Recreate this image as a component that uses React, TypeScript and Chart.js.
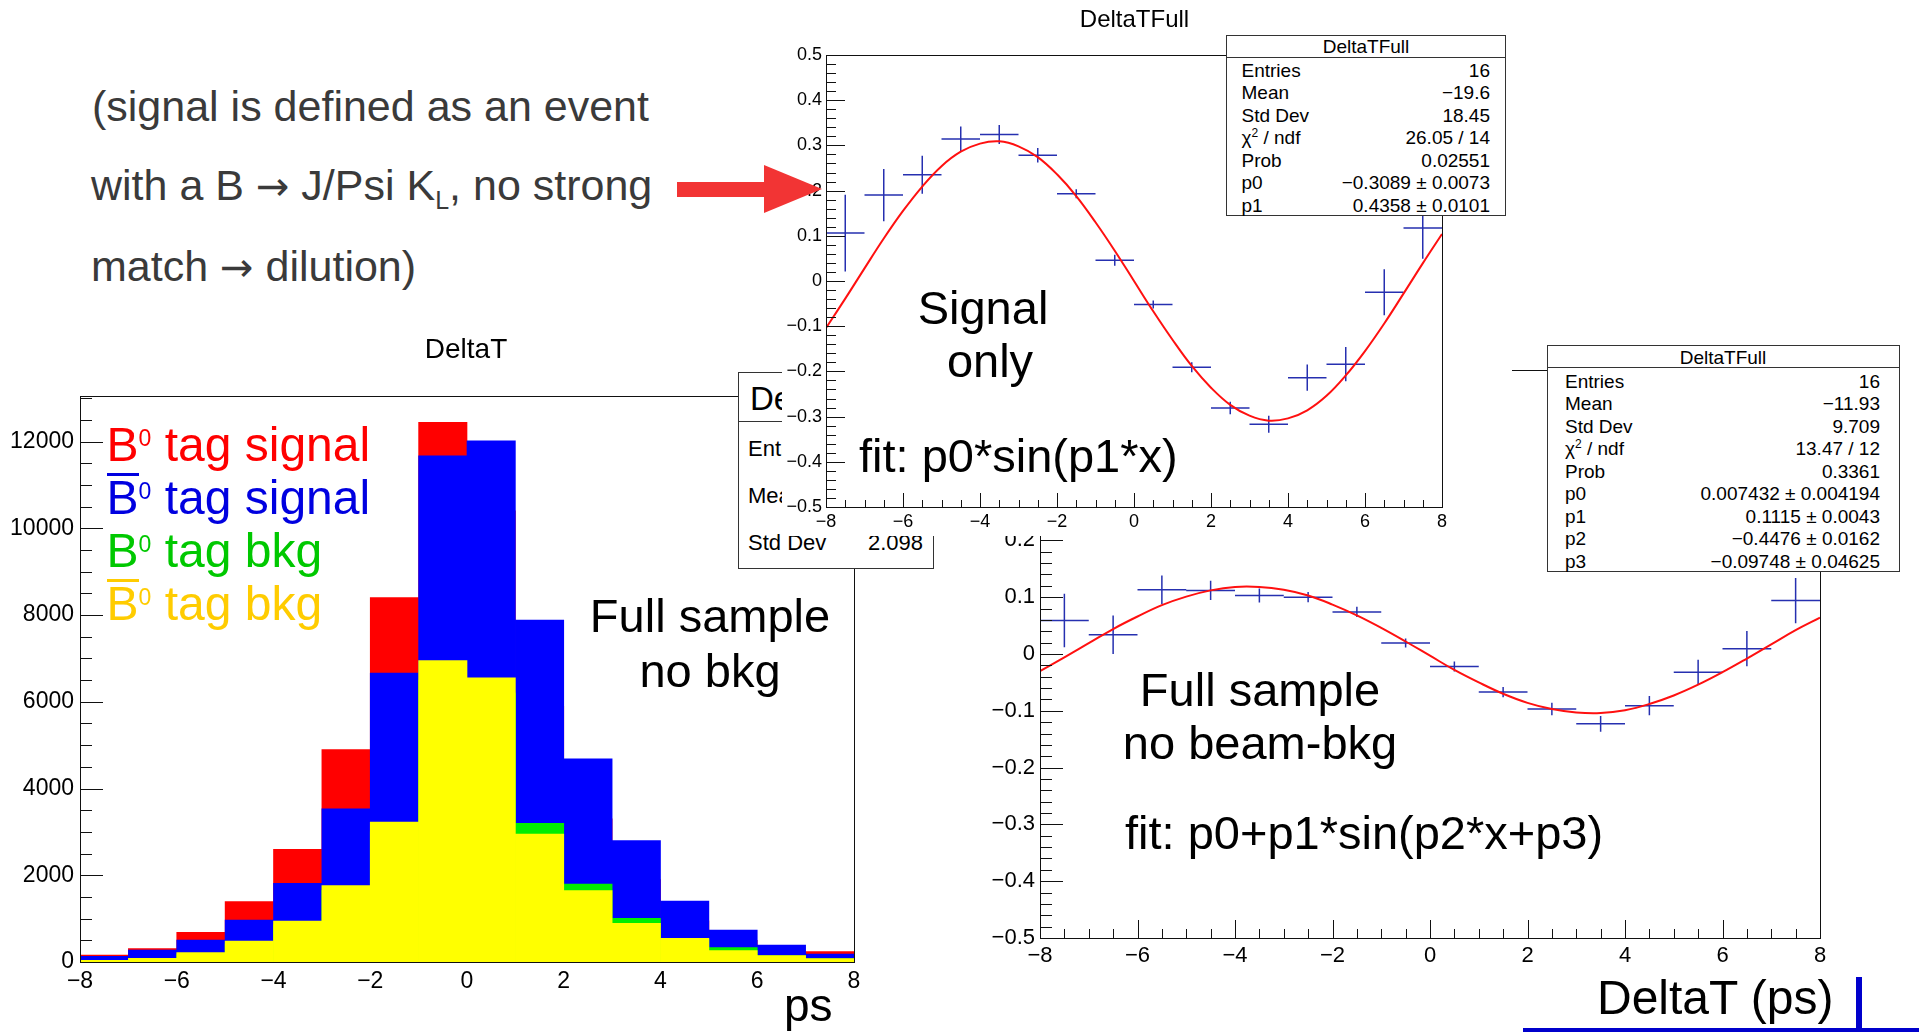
import React, { useEffect, useRef } from 'react';
import { Chart, registerables } from 'chart.js';

Chart.register(...registerables);

const FONT = '"Liberation Sans", Arial, Helvetica, sans-serif';

// ---------------- data ----------------
const binCenters = [-7.5, -6.5, -5.5, -4.5, -3.5, -2.5, -1.5, -0.5, 0.5, 1.5, 2.5, 3.5, 4.5, 5.5, 6.5, 7.5];
const binHalfWidth = 0.5;

// left histogram (DeltaT), drawn overlapping
const histB0TagSignal = [161, 307, 684, 1391, 2598, 4898, 8401, 12443, 10400, 5900, 3300, 1900, 950, 500, 260, 238];
const histB0barTagSignal = [131, 277, 507, 968, 1814, 3532, 6659, 11673, 12019, 7881, 4686, 2798, 1407, 738, 392, 185];
const histB0TagBkg = [30, 70, 180, 420, 860, 1650, 3000, 6500, 6200, 3197, 1799, 1007, 520, 330, 140, 75];
const histB0barTagBkg = [38, 85, 215, 484, 945, 1761, 3224, 6948, 6553, 2951, 1645, 892, 546, 261, 146, 80];
const histYTicks = [0, 2000, 4000, 6000, 8000, 10000, 12000];
const xTicks = [-8, -6, -4, -2, 0, 2, 4, 6, 8];

// top-right: signal only
const sigOnlyValues = [0.106, 0.19, 0.235, 0.314, 0.324, 0.278, 0.193, 0.046, -0.052, -0.191, -0.281, -0.317, -0.214, -0.184, -0.025, 0.117];
const sigOnlyErrors = [0.085, 0.058, 0.042, 0.028, 0.021, 0.016, 0.01, 0.012, 0.009, 0.011, 0.014, 0.019, 0.029, 0.038, 0.051, 0.068];

// bottom-right: full sample, no beam-bkg
const fullValues = [0.059, 0.034, 0.113, 0.112, 0.103, 0.1, 0.074, 0.0195, -0.022, -0.067, -0.097, -0.123, -0.091, -0.032, 0.0094, 0.094];
const fullErrors = [0.047, 0.034, 0.025, 0.017, 0.0125, 0.009, 0.009, 0.008, 0.009, 0.009, 0.011, 0.014, 0.017, 0.022, 0.031, 0.04];
const fitYTicks = [-0.5, -0.4, -0.3, -0.2, -0.1, 0, 0.1, 0.2, 0.3, 0.4, 0.5];

// fit curves
const fitX = [-8, -7.5, -7, -6.5, -6, -5.5, -5, -4.5, -4, -3.5, -3, -2.5, -2, -1.5, -1, -0.5, 0, 0.5, 1, 1.5, 2, 2.5, 3, 3.5, 4, 4.5, 5, 5.5, 6, 6.5, 7, 7.5, 8];
const fitSignalOnly = [-0.104, -0.039, 0.028, 0.094, 0.155, 0.209, 0.254, 0.286, 0.304, 0.309, 0.298, 0.274, 0.236, 0.188, 0.13, 0.067, 0, -0.067, -0.13, -0.188, -0.236, -0.274, -0.298, -0.309, -0.304, -0.286, -0.254, -0.209, -0.155, -0.094, -0.028, 0.039, 0.104];
const fitFullSample = [-0.03, -0.006, 0.019, 0.044, 0.066, 0.086, 0.101, 0.112, 0.118, 0.118, 0.113, 0.103, 0.087, 0.068, 0.046, 0.022, -0.003, -0.028, -0.05, -0.07, -0.086, -0.097, -0.103, -0.104, -0.099, -0.088, -0.073, -0.054, -0.032, -0.008, 0.017, 0.042, 0.064];

// stats boxes
const statsSignalLabels = ['Entries', 'Mean', 'Std Dev', 'chi', 'Prob', 'p0', 'p1'];
const statsSignalValues = ['16', '\u221219.6', '18.45', '26.05 / 14', '0.02551', '\u22120.3089 \u00b1 0.0073', '0.4358 \u00b1 0.0101'];
const statsFullLabels = ['Entries', 'Mean', 'Std Dev', 'chi', 'Prob', 'p0', 'p1', 'p2', 'p3'];
const statsFullValues = ['16', '\u221211.93', '9.709', '13.47 / 12', '0.3361', '0.007432 \u00b1 0.004194', '0.1115 \u00b1 0.0043', '\u22120.4476 \u00b1 0.0162', '\u22120.09748 \u00b1 0.04625'];
const statsHistLabels = ['Entries', 'Mean', 'Std Dev'];
const statsHistValues = ['', '', '2.098'];

// ---------------- helpers ----------------
const fmtTick = (v: number) => {
  const r = Math.round(Number(v) * 1000) / 1000;
  if (r === 0) return '0';
  return String(r).replace('-', '\u2212');
};

function crossPoints(centers: number[], values: number[], errors: number[]) {
  const pts: any[] = [];
  centers.forEach((c, i) => {
    pts.push({ x: c - binHalfWidth, y: values[i] });
    pts.push({ x: c + binHalfWidth, y: values[i] });
    pts.push({ x: c, y: null });
    pts.push({ x: c, y: values[i] - errors[i] });
    pts.push({ x: c, y: values[i] + errors[i] });
    pts.push({ x: c, y: null });
  });
  return pts;
}

const rootAxes = {
  id: 'rootAxes',
  afterDatasetsDraw(chart: any, _args: any, opts: any) {
    const { ctx, chartArea: a, scales } = chart;
    ctx.save();
    ctx.strokeStyle = '#111';
    ctx.lineWidth = 1;
    const drawTicks = (axis: string, cfg: any) => {
      if (!cfg) return;
      const n = Math.round((cfg.max - cfg.min) / cfg.minor);
      const ratio = Math.round(cfg.major / cfg.minor);
      for (let i = 0; i <= n; i++) {
        const v = cfg.min + i * cfg.minor;
        const len = i % ratio === 0 ? cfg.majorLen : cfg.minorLen;
        ctx.beginPath();
        if (axis === 'y') {
          const p = Math.round(scales.y.getPixelForValue(v)) + 0.5;
          ctx.moveTo(a.left, p);
          ctx.lineTo(a.left + len, p);
        } else {
          const p = Math.round(scales.x.getPixelForValue(v)) + 0.5;
          ctx.moveTo(p, a.bottom);
          ctx.lineTo(p, a.bottom - len);
        }
        ctx.stroke();
      }
    };
    drawTicks('y', opts.y);
    drawTicks('x', opts.x);
    ctx.strokeRect(Math.round(a.left) + 0.5, Math.round(a.top) + 0.5, Math.round(a.right - a.left), Math.round(a.bottom - a.top));
    ctx.restore();
  },
};

function axis(min: number, max: number, tickValues: number[], size: number, padding: number, fit: (s: any) => void) {
  return {
    type: 'linear',
    min,
    max,
    offset: false,
    grid: { display: false, drawTicks: false, offset: false },
    border: { display: false },
    ticks: { autoSkip: false, maxRotation: 0, padding, color: '#000', font: { family: FONT, size }, callback: fmtTick },
    afterBuildTicks: (s: any) => {
      s.ticks = tickValues.map((value) => ({ value }));
    },
    afterFit: fit,
  };
}

const baseOptions = {
  animation: false,
  responsive: false,
  maintainAspectRatio: false,
  events: [],
};

function makeHistChart() {
  const mk = (label: string, vals: number[], color: string, order: number) => ({
    label,
    data: binCenters.map((x, i) => ({ x, y: vals[i] })),
    backgroundColor: color,
    borderWidth: 0,
    grouped: false,
    barPercentage: 1,
    categoryPercentage: 1,
    order,
  });
  return {
    type: 'bar',
    data: {
      datasets: [
        mk('B0bar tag bkg', histB0barTagBkg, '#ffff00', 0),
        mk('B0 tag bkg', histB0TagBkg, '#00ee00', 1),
        mk('B0bar tag signal', histB0barTagSignal, '#0000ff', 2),
        mk('B0 tag signal', histB0TagSignal, '#ff0000', 3),
      ],
    },
    options: {
      ...baseOptions,
      layout: { padding: { left: 0, top: 66, right: 26, bottom: 0 } },
      plugins: {
        legend: { display: false },
        tooltip: { enabled: false },
        rootAxes: { y: { min: 0, max: 13000, major: 2000, minor: 500, majorLen: 23, minorLen: 12 } },
      },
      scales: {
        x: axis(-8, 8, xTicks, 23, 6, (s: any) => { s.height = 72; }),
        y: axis(0, 13050, histYTicks, 23, 6, (s: any) => { s.width = 80; }),
      },
    },
    plugins: [rootAxes],
  };
}

function makeFitChart(values: number[], errors: number[], fit: number[], o: any) {
  return {
    type: 'line',
    data: {
      datasets: [
        { label: 'fit', data: fitX.map((x, i) => ({ x, y: fit[i] })), borderColor: '#ff1010', borderWidth: 2, pointRadius: 0, tension: 0.4, order: 0 },
        { label: 'DeltaTFull', data: crossPoints(binCenters, values, errors), borderColor: '#2630b0', borderWidth: 1.5, pointRadius: 0, tension: 0, spanGaps: false, order: 1 },
      ],
    },
    options: {
      ...baseOptions,
      layout: { padding: o.padding },
      plugins: {
        legend: { display: false },
        tooltip: { enabled: false },
        rootAxes: {
          x: { min: -8, max: 8, major: 2, minor: 0.5, majorLen: o.xMaj, minorLen: o.xMin },
          y: { min: -0.5, max: 0.5, major: 0.1, minor: 0.02, majorLen: o.yMaj, minorLen: o.yMin },
        },
      },
      scales: {
        x: axis(-8, 8, xTicks, o.font, o.xPad, (s: any) => { s.height = o.xH; }),
        y: axis(-0.5, 0.5, fitYTicks, o.font, o.yPad, (s: any) => { s.width = o.yW; }),
      },
    },
    plugins: [rootAxes],
  };
}

function ChartBox({ left, top, width, height, bg, make }: any) {
  const ref = useRef<HTMLCanvasElement>(null);
  useEffect(() => {
    const chart = new Chart(ref.current as HTMLCanvasElement, make() as any);
    return () => chart.destroy();
  }, []);
  return (
    <div style={{ position: 'absolute', left, top, width, height, background: bg, overflow: 'hidden' }}>
      <canvas ref={ref} width={width} height={height} style={{ display: 'block', width, height }} />
    </div>
  );
}

function Txt({ x, y, size, color = '#000', align = 'left', children, family = FONT }: any) {
  const style: any = {
    position: 'absolute',
    left: x,
    top: y - 0.8465 * size,
    fontSize: size,
    lineHeight: `${size}px`,
    color,
    whiteSpace: 'nowrap',
    fontFamily: family,
  };
  if (align === 'center') style.transform = 'translateX(-50%)';
  if (align === 'right') style.transform = 'translateX(-100%)';
  return <div style={style}>{children}</div>;
}

const Sup = ({ children, size, up }: any) => (
  <span style={{ fontSize: size, lineHeight: 0, position: 'relative', top: -up }}>{children}</span>
);

const Arrow = () => <span style={{ fontFamily: '"DejaVu Sans", sans-serif', fontSize: 40, lineHeight: 0 }}>{'\u2192'}</span>;

const BBar = () => (
  <span style={{ position: 'relative', display: 'inline-block' }}>
    B<span style={{ position: 'absolute', left: 0, right: 0, top: -1, height: 3, background: 'currentColor' }} />
  </span>
);

const label = (l: string) =>
  l === 'chi' ? (
    <span>
      {'\u03c7'}
      <Sup size={12} up={7}>2</Sup>
      {' / ndf'}
    </span>
  ) : (
    l
  );

function StatsBox({ left, top, width, height, sep, title, titleX, titleY, titleSize, titleAlign, labels, values, labelX, valueX, firstY, step, size }: any) {
  return (
    <>
      <div style={{ position: 'absolute', left, top, width, height, background: '#fff', border: '1px solid #333', boxSizing: 'border-box' }} />
      <div style={{ position: 'absolute', left, top: sep, width, height: 1, background: '#333' }} />
      <Txt x={titleX} y={titleY} size={titleSize} align={titleAlign}>{title}</Txt>
      {labels.map((l: string, i: number) => (
        <Txt key={'l' + i} x={labelX} y={firstY + i * step} size={size}>{label(l)}</Txt>
      ))}
      {values.map((v: string, i: number) => (
        <Txt key={'v' + i} x={valueX} y={firstY + i * step} size={size} align="right">{v}</Txt>
      ))}
    </>
  );
}

export default function App() {
  const big = 47;
  const leg = 48;
  return (
    <div style={{ position: 'absolute', left: 0, top: 0, width: 1919, height: 1034, overflow: 'hidden', background: '#fff', fontFamily: FONT }}>
      {/* intro text */}
      <Txt x={92} y={121} size={43} color="#3a3a3a">(signal is defined as an event</Txt>
      <Txt x={91} y={200} size={43} color="#3a3a3a">
        with a B <Arrow /> J/Psi K<span style={{ fontSize: 25, lineHeight: 0, position: 'relative', top: 9 }}>L</span>, no strong
      </Txt>
      <Txt x={91} y={281} size={43} color="#3a3a3a">match <Arrow /> dilution)</Txt>

      {/* left histogram */}
      <ChartBox left={0} top={330} width={880} height={704} bg="transparent" make={makeHistChart} />
      <Txt x={466} y={359} size={28} align="center">DeltaT</Txt>
      <Txt x={106.5} y={461.3} size={leg} color="#ff0000">B<Sup size={23} up={15}>0</Sup> tag signal</Txt>
      <Txt x={106.5} y={514.3} size={leg} color="#0000e0"><BBar /><Sup size={23} up={15}>0</Sup> tag signal</Txt>
      <Txt x={106.5} y={567.6} size={leg} color="#00c800">B<Sup size={23} up={15}>0</Sup> tag bkg</Txt>
      <Txt x={106.5} y={620.6} size={leg} color="#ffcc00"><BBar /><Sup size={23} up={15}>0</Sup> tag bkg</Txt>
      <Txt x={710} y={632} size={big} align="center">Full sample</Txt>
      <Txt x={710} y={686.5} size={big} align="center">no bkg</Txt>
      <Txt x={784} y={1021} size={46}>ps</Txt>
      <StatsBox left={738} top={372} width={196} height={197} sep={421} title="DeltaT" titleX={750} titleY={410} titleSize={33} titleAlign="left"
        labels={statsHistLabels} values={statsHistValues} labelX={748} valueX={923} firstY={456.7} step={47.2} size={22} />

      {/* bottom-right: full sample */}
      <ChartBox left={945} top={340} width={974} height={694} bg="#fff"
        make={() => makeFitChart(fullValues, fullErrors, fitFullSample, { padding: { left: 0, top: 30, right: 99, bottom: 0 }, font: 22, xPad: 5, yPad: 5, xH: 96, yW: 95, xMaj: 18, xMin: 9, yMaj: 23, yMin: 12 })} />
      <Txt x={1260} y={706} size={big} align="center">Full sample</Txt>
      <Txt x={1260} y={759} size={big} align="center">no beam-bkg</Txt>
      <Txt x={1125} y={849} size={big}>fit: p0+p1*sin(p2*x+p3)</Txt>
      <StatsBox left={1547} top={345} width={353} height={227} sep={367} title="DeltaTFull" titleX={1723} titleY={364} titleSize={19} titleAlign="center"
        labels={statsFullLabels} values={statsFullValues} labelX={1565} valueX={1880} firstY={387.6} step={22.5} size={19} />

      {/* top-right: signal only */}
      <ChartBox left={782} top={0} width={730} height={536} bg="#fff"
        make={() => makeFitChart(sigOnlyValues, sigOnlyErrors, fitSignalOnly, { padding: { left: 0, top: 55, right: 70, bottom: 4 }, font: 18, xPad: 4, yPad: 4, xH: 25, yW: 44, xMaj: 14, xMin: 7, yMaj: 19, yMin: 10 })} />
      <Txt x={1134.5} y={27} size={24} align="center">DeltaTFull</Txt>
      <Txt x={983} y={324} size={big} align="center">Signal</Txt>
      <Txt x={990} y={377} size={big} align="center">only</Txt>
      <Txt x={859} y={472} size={big}>fit: p0*sin(p1*x)</Txt>
      <StatsBox left={1226} top={35} width={280} height={181} sep={57} title="DeltaTFull" titleX={1366} titleY={53.4} titleSize={19} titleAlign="center"
        labels={statsSignalLabels} values={statsSignalValues} labelX={1241.5} valueX={1490} firstY={76.7} step={22.5} size={19} />

      {/* red arrow */}
      <svg style={{ position: 'absolute', left: 0, top: 0 }} width={1919} height={1034}>
        <rect x={677} y={182} width={89} height={15} fill="#f23434" />
        <polygon points="764,165 822,189 764,213" fill="#f23434" />
      </svg>

      {/* bottom-right label */}
      <Txt x={1597} y={1015} size={48}>DeltaT (ps)</Txt>
      <div style={{ position: 'absolute', left: 1523, top: 1028, width: 396, height: 4, background: '#0000cc' }} />
      <div style={{ position: 'absolute', left: 1856, top: 977, width: 6, height: 54, background: '#0000cc' }} />
    </div>
  );
}
